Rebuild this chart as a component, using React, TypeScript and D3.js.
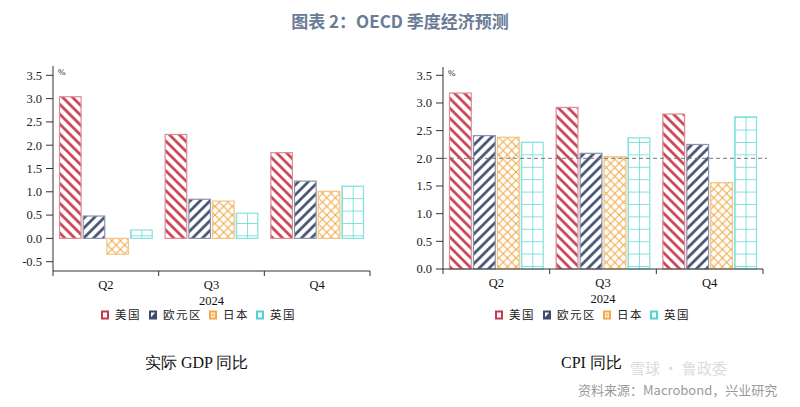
import React from "react";
import * as d3 from "d3";

const quarters = ["Q2", "Q3", "Q4"];
const series = ["美国", "欧元区", "日本", "英国"];
const gdpUS = [3.04, 2.23, 1.84];
const gdpEA = [0.48, 0.84, 1.23];
const gdpJP = [-0.34, 0.8, 1.01];
const gdpUK = [0.18, 0.54, 1.12];
const cpiUS = [3.18, 2.92, 2.8];
const cpiEA = [2.41, 2.09, 2.25];
const cpiJP = [2.38, 2.03, 1.56];
const cpiUK = [2.29, 2.37, 2.75];
const gdpTicks = [-0.5, 0, 0.5, 1, 1.5, 2, 2.5, 3, 3.5];
const cpiTicks = [0, 0.5, 1, 1.5, 2, 2.5, 3, 3.5];

const colors = ["#c63a4c", "#3d4a6c", "#f0aa48", "#4fd6d2"];
const outlines = ["#dc8c97", "#8b94ab", "#f3c483", "#86e2de"];
const patIds = ["patUS", "patEA", "patJP", "patUK"];

const serif = "'Liberation Serif', 'Times New Roman', serif";
const cjk = "'Noto Sans CJK SC', 'Noto Sans', sans-serif";

type PanelProps = {
  id: string;
  data: number[][];
  domain: [number, number];
  ticks: number[];
  xRange: [number, number];
  yRange: [number, number];
  legendX: number;
  refLine?: number;
  title: string;
  titleX: number;
};

function Panel(p: PanelProps) {
  const x = d3.scaleBand<string>().domain(quarters).range(p.xRange).padding(0);
  const inner = d3
    .scaleBand<string>()
    .domain(series)
    .range([6.5, x.bandwidth() - 6.5])
    .paddingInner(0.09)
    .paddingOuter(0);
  const y = d3.scaleLinear().domain(p.domain).range(p.yRange);
  const [x0, x1] = p.xRange;
  const yBottom = p.yRange[0];
  const yTop = p.yRange[1];
  const legendOffsets = [0, 48, 108, 155];
  const axisColor = "#333";
  return (
    <g>
      <defs>
        {quarters.map((q, qi) => {
          const bx = (x(q) as number) + (inner("英国") as number);
          return (
            <pattern
              key={q}
              id={`${p.id}-uk-${qi}`}
              patternUnits="userSpaceOnUse"
              x={bx}
              y={y(0) - 3}
              width={inner.bandwidth() / 2}
              height={12.4}
            >
              <rect width={inner.bandwidth() / 2} height={12.4} fill="#fff" />
              <line x1={0} y1={0} x2={inner.bandwidth() / 2} y2={0} stroke={colors[3]} strokeWidth={1.4} />
              <line x1={0} y1={0} x2={0} y2={12.4} stroke={colors[3]} strokeWidth={1.4} />
            </pattern>
          );
        })}
      </defs>
      {quarters.map((q, qi) =>
        series.map((s, si) => {
          const v = p.data[si][qi];
          const bx = (x(q) as number) + (inner(s) as number);
          const top = y(Math.max(0, v));
          const h = Math.abs(y(v) - y(0));
          const fill = si === 3 ? `url(#${p.id}-uk-${qi})` : `url(#${patIds[si]})`;
          return (
            <rect
              key={q + s}
              x={bx}
              y={top}
              width={inner.bandwidth()}
              height={h}
              fill={fill}
              stroke={outlines[si]}
              strokeWidth={1.2}
            />
          );
        })
      )}
      {p.refLine !== undefined && (
        <line
          x1={x0}
          x2={x1 + 4}
          y1={y(p.refLine)}
          y2={y(p.refLine)}
          stroke="#777"
          strokeWidth={1}
          strokeDasharray="4,3"
        />
      )}
      <line x1={x0} x2={x0} y1={yTop} y2={yBottom} stroke={axisColor} strokeWidth={1} />
      {p.ticks.map((t) => (
        <g key={t}>
          <line x1={x0 - 7} x2={x0} y1={y(t)} y2={y(t)} stroke={axisColor} strokeWidth={1} />
          <text
            x={x0 - 11}
            y={y(t)}
            dy="0.35em"
            textAnchor="end"
            fontFamily={serif}
            fontSize={12.5}
            fill="#222"
          >
            {t.toFixed(1)}
          </text>
        </g>
      ))}
      <text x={x0 + 5} y={yTop + 9} fontFamily={serif} fontSize={9} fill="#222">
        %
      </text>
      <line x1={x0} x2={x1} y1={yBottom} y2={yBottom} stroke={axisColor} strokeWidth={1} />
      {[...quarters.map((q) => x(q) as number), x1].map((tx, i) => (
        <line key={i} x1={tx} x2={tx} y1={yBottom} y2={yBottom + 5} stroke={axisColor} strokeWidth={1} />
      ))}
      {quarters.map((q) => (
        <text
          key={q}
          x={(x(q) as number) + x.bandwidth() / 2}
          y={yBottom + 18}
          textAnchor="middle"
          fontFamily={serif}
          fontSize={12.5}
          fill="#111"
        >
          {q}
        </text>
      ))}
      <text
        x={(x0 + x1) / 2}
        y={yBottom + 34}
        textAnchor="middle"
        fontFamily={serif}
        fontSize={12.5}
        fill="#111"
      >
        2024
      </text>
      {series.map((s, si) => {
        const lx = p.legendX + legendOffsets[si];
        const ly = 315;
        return (
          <g key={s}>
            <rect
              x={lx + 1}
              y={ly - 3.5}
              width={6}
              height={7}
              fill={si === 3 ? "#fff" : `url(#${patIds[si]}L)`}
              stroke={colors[si]}
              strokeWidth={2}
            />
            <text
              x={lx + 14}
              y={ly}
              dy="0.36em"
              fontFamily={cjk}
              fontSize={11.5}
              letterSpacing={1.5}
              fill="#222"
            >
              {s}
            </text>
          </g>
        );
      })}
      <text x={p.titleX} y={362} dy="0.35em" fontFamily={serif} fontSize={16} fill="#111">
        {p.title}
      </text>
    </g>
  );
}

export default function App() {
  const gdpData = [gdpUS, gdpEA, gdpJP, gdpUK];
  const cpiData = [cpiUS, cpiEA, cpiJP, cpiUK];
  return (
    <svg
      width={800}
      height={407}
      style={{ position: "absolute", left: 0, top: 0, background: "#fff" }}
    >
      <defs>
        <pattern id="patUS" patternUnits="userSpaceOnUse" width={7} height={7} patternTransform="rotate(45)">
          <rect width={7} height={7} fill="#fff" />
          <line x1={0} y1={3.5} x2={7} y2={3.5} stroke={colors[0]} strokeWidth={2.6} />
        </pattern>
        <pattern id="patEA" patternUnits="userSpaceOnUse" width={7} height={7} patternTransform="rotate(-45)">
          <rect width={7} height={7} fill="#fff" />
          <line x1={0} y1={3.5} x2={7} y2={3.5} stroke={colors[1]} strokeWidth={2.6} />
        </pattern>
        <pattern id="patJP" patternUnits="userSpaceOnUse" width={8.6} height={8.6}>
          <rect width={8.6} height={8.6} fill="#fff" />
          <path d="M0,0 L8.6,8.6 M8.6,0 L0,8.6" stroke={colors[2]} strokeWidth={1.1} fill="none" />
        </pattern>
        <pattern id="patUSL" patternUnits="userSpaceOnUse" width={7} height={7}>
          <rect width={7} height={7} fill="#fff" />
        </pattern>
        <pattern id="patEAL" patternUnits="objectBoundingBox" width={1} height={1}>
          <rect width={6} height={7} fill="#fff" />
          <path d="M6,0 L6,7 L0,7 Z" fill={colors[1]} />
        </pattern>
        <pattern id="patJPL" patternUnits="objectBoundingBox" width={1} height={1}>
          <rect width={6} height={7} fill="#fff" />
          <rect x={1.5} y={2} width={3} height={3} fill={colors[2]} opacity={0.7} />
        </pattern>
      </defs>
      <text
        x={400}
        y={22}
        dy="0.35em"
        textAnchor="middle"
        fontFamily={cjk}
        fontSize={17}
        fontWeight={600}
        fill="#6a7b96"
      >
        图表 2：OECD 季度经济预测
      </text>
      <Panel
        id="gdp"
        data={gdpData}
        domain={[-0.7, 3.7]}
        ticks={gdpTicks}
        xRange={[53, 370]}
        yRange={[271, 66]}
        legendX={101}
        title="实际 GDP 同比"
        titleX={145}
      />
      <Panel
        id="cpi"
        data={cpiData}
        domain={[0, 3.65]}
        ticks={cpiTicks}
        xRange={[443, 763]}
        yRange={[269, 67]}
        legendX={495}
        refLine={2}
        title="CPI 同比"
        titleX={561}
      />
      <text x={630} y={369} dy="0.35em" fontFamily={cjk} fontSize={15} fill="#d6d6d6" opacity={0.85}>
        雪球 · 鲁政委
      </text>
      <text x={578} y={390} dy="0.35em" fontFamily={cjk} fontSize={13} fill="#9a9a9a">
        资料来源：Macrobond，兴业研究
      </text>
    </svg>
  );
}
